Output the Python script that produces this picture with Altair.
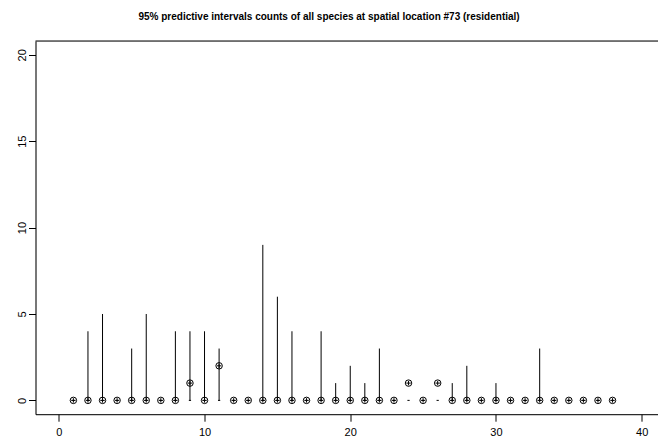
import altair as alt
import pandas as pd

site = list(range(1, 39))
observed = [0, 0, 0, 0, 0, 0, 0, 0, 1, 0, 2, 0, 0, 0, 0, 0, 0, 0, 0, 0,
            0, 0, 0, 1, 0, 1, 0, 0, 0, 0, 0, 0, 0, 0, 0, 0, 0, 0]
lower = [0] * 38
upper = [0, 4, 5, 0, 3, 5, 0, 4, 4, 4, 3, 0, 0, 9, 6, 4, 0, 4, 1, 2,
         1, 3, 0, 0, 0, 0, 1, 2, 0, 1, 0, 0, 3, 0, 0, 0, 0, 0]
x_ticks = [0, 10, 20, 30, 40]
y_ticks = [0, 5, 10, 15, 20]

df = pd.DataFrame({"site": site, "observed": observed, "lower": lower, "upper": upper})

W = 622.5
H = 373.2
FONT = "Liberation Sans"

x_scale = alt.Scale(domain=[-1.6, 41.12], nice=False, zero=False)
y_scale = alt.Scale(domain=[-0.8, 20.8], nice=False, zero=False)

x_axis = alt.Axis(values=x_ticks, tickSize=7, labelPadding=5, labelFontSize=11,
                  labelFont=FONT, labelColor="black", domainColor="black",
                  tickColor="black", grid=False, title=None, labelFlush=False,
                  format="d")
y_axis = alt.Axis(values=y_ticks, tickSize=7, labelPadding=1, labelFontSize=11,
                  labelFont=FONT, labelColor="black", domainColor="black",
                  tickColor="black", grid=False, title=None, labelAngle=270,
                  labelAlign="center", labelBaseline="bottom", labelFlush=False,
                  format="d")

base = alt.Chart(df)

rules = base.mark_rule(color="black", strokeWidth=1).encode(
    x=alt.X("site:Q", scale=x_scale, axis=x_axis),
    y=alt.Y("lower:Q", scale=y_scale, axis=y_axis),
    y2="upper:Q",
)

dashes = base.mark_point(shape="M-1,0L1,0", size=5, filled=False, color="black",
                         strokeWidth=1, opacity=1).encode(
    x=alt.X("site:Q", scale=x_scale),
    y=alt.Y("lower:Q", scale=y_scale),
)

circles = base.mark_point(shape="circle", size=42, filled=False, color="black",
                          strokeWidth=1, opacity=1).encode(
    x=alt.X("site:Q", scale=x_scale),
    y=alt.Y("observed:Q", scale=y_scale),
)

plus = base.mark_point(shape="M-1,0L1,0M0,-1L0,1", size=20, filled=False, color="black",
                       strokeWidth=1, opacity=1).encode(
    x=alt.X("site:Q", scale=x_scale),
    y=alt.Y("observed:Q", scale=y_scale),
)

top_border = alt.Chart(pd.DataFrame({"k": [0]})).mark_rule(color="black", strokeWidth=1).encode(
    x=alt.value(0), x2=alt.value(W), y=alt.value(0)
)

chart = alt.layer(rules, dashes, circles, plus, top_border).properties(
    width=W,
    height=H,
    padding={"left": 35.5, "top": 41, "right": 0, "bottom": 29.8},
    autosize=alt.AutoSizeParams(type="none"),
    title=alt.TitleParams(
        "95% predictive intervals counts of all species at spatial location #73 (residential)",
        fontSize=10, fontWeight="bold", font=FONT, color="black",
        anchor="middle", dx=-17.7, offset=19,
    ),
).configure_view(strokeWidth=0).configure(background="white")

chart.save("out.html", embed_options={"renderer": "svg", "actions": False})
